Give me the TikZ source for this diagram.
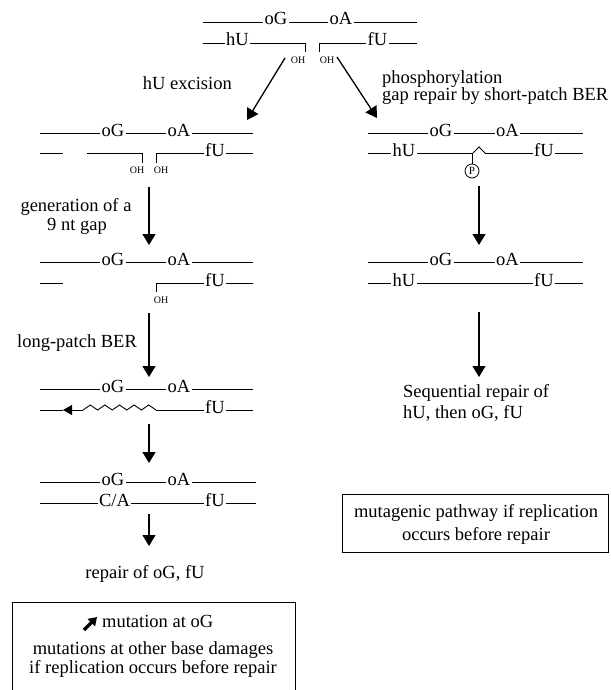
\documentclass[tikz,border=0pt]{standalone}
\usepackage{fontspec}
\setmainfont{Liberation Serif}
\usetikzlibrary{arrows.meta}

\begin{document}
\begin{tikzpicture}[x=1pt,y=-1pt,
  every node/.style={font=\fontsize{18.5}{21}\selectfont},
  base/.style={anchor=base,fill=white,inner xsep=1.5pt,inner ysep=1pt},
  oh/.style={font=\fontsize{10}{12}\selectfont,inner sep=0pt},
  strand/.style={line width=0.9pt},
  arr/.style={line width=1.3pt,-{Triangle[width=13pt,length=11pt]}},
  note/.style={anchor=base west,inner sep=0pt},
  caption/.style={anchor=base,inner sep=0pt},
  box/.style={line width=1pt}]
\useasboundingbox (0,0) rectangle (610,690);

% damaged duplex
\draw[strand] (203,22) -- (417,22);
\draw[strand] (203,43) -- (305,43) -- (305,52);
\draw[strand] (319,52) -- (319,43) -- (417,43);
\node[base] (oG0) at (276,25) {oG};
\node[base] (oA0) at (341,25) {oA};
\node[base] (hU0) at (237.5,46) {hU};
\node[base] (fU0) at (377.5,46) {fU};
\node[oh] (ohL0) at (298,60) {OH};
\node[oh] (ohR0) at (327,60) {OH};

\coordinate (excA) at (285,58);
\coordinate (excB) at (247,120);
\coordinate (phA) at (337,57);
\coordinate (phB) at (377,118);
\draw[arr] (excA) -- (excB);
\draw[arr] (phA) -- (phB);
\node[anchor=base east,inner sep=0pt] (exc) at (232,90) {hU excision};
\node[note] (phos) at (382,84) {phosphorylation};
\node[note] (gaprep) at (382,101) {gap repair by short-patch BER};

% left: after excision
\draw[strand] (40,133) -- (253,133);
\draw[strand] (40,153) -- (63,153);
\draw[strand] (87,153) -- (142,153) -- (142,163);
\draw[strand] (156,163) -- (156,153) -- (253,153);
\node[base] (oG1) at (113,136) {oG};
\node[base] (oA1) at (179,136) {oA};
\node[base] (fU1) at (215,156) {fU};
\node[oh] (ohL1) at (137,170) {OH};
\node[oh] (ohR1) at (161,170) {OH};

\coordinate (genA) at (149,187);
\coordinate (genB) at (149,245);
\draw[arr] (genA) -- (genB);
\node[caption] (gen1) at (76,211) {generation of a};
\node[caption] (gen2) at (77,230) {9 nt gap};

% left: 9 nt gap
\draw[strand] (40,262) -- (253,262);
\draw[strand] (40,283) -- (63,283);
\draw[strand] (156,292) -- (156,283) -- (253,283);
\node[base] (oG2) at (113,265) {oG};
\node[base] (oA2) at (179,265) {oA};
\node[base] (fU2) at (215,286) {fU};
\node[oh] (ohR2) at (161,300) {OH};

\coordinate (lpA) at (149,313);
\coordinate (lpB) at (149,377);
\draw[arr] (lpA) -- (lpB);
\node[caption] (lp) at (77,347) {long-patch BER};

% left: strand displacement
\draw[strand] (40,389) -- (253,389);
\draw[strand] (63,410) -- (40,410);
\draw[strand,-{Triangle[width=10pt,length=9pt]}] (83,410) -- (63,410);
\draw[strand] (83,410) \foreach \k in {1,...,5}{ -- ++(7.3,-5) -- ++(7.3,5)};
\draw[strand] (156,410) -- (253,410);
\node[base] (oG3) at (113,392) {oG};
\node[base] (oA3) at (179,392) {oA};
\node[base] (fU3) at (215,413) {fU};

\coordinate (mA) at (149,424);
\coordinate (mB) at (149,463);
\draw[arr] (mA) -- (mB);

% left: mispaired product
\draw[strand] (40,482) -- (256,482);
\draw[strand] (40,503) -- (256,503);
\node[base] (oG4) at (113,485) {oG};
\node[base] (oA4) at (179,485) {oA};
\node[base] (CA4) at (114.5,506) {C/A};
\node[base] (fU4) at (215,506) {fU};

\coordinate (rA) at (149,514);
\coordinate (rB) at (149,546);
\draw[arr] (rA) -- (rB);
\node[caption] (rep) at (145,578) {repair of oG, fU};

\draw[box] (12,700) -- (12,602) -- (295,602) -- (295,700);
\draw[line width=3.2pt,-{Triangle[width=10pt,length=8pt]}] (84,630) -- (97,617);
\node[note] (mut1) at (102,627) {mutation at oG};
\node[caption] (mut2) at (153,654) {mutations at other base damages};
\node[caption] (mut3) at (153,673) {if replication occurs before repair};

% right: short-patch BER
\draw[strand] (368,133) -- (583,133);
\draw[strand] (368,153) -- (472,153);
\node[draw,circle,line width=0.8pt,minimum size=14pt,inner sep=0pt,
  font=\fontsize{11}{12}\selectfont] (P) at (472,171) {P};
\draw[strand] (472,153) -- (P);
\draw[strand] (473,153) -- (479,147) -- (485,153);
\draw[strand] (485,153) -- (583,153);
\node[base] (oG5) at (441,136) {oG};
\node[base] (oA5) at (507.5,136) {oA};
\node[base] (hU5) at (404,156) {hU};
\node[base] (fU5) at (544,156) {fU};

\coordinate (spA) at (479,186);
\coordinate (spB) at (479,245);
\draw[arr] (spA) -- (spB);

\draw[strand] (368,262) -- (583,262);
\draw[strand] (368,283) -- (583,283);
\node[base] (oG6) at (441,265) {oG};
\node[base] (oA6) at (507.5,265) {oA};
\node[base] (hU6) at (404,286) {hU};
\node[base] (fU6) at (544,286) {fU};

\coordinate (sqA) at (479,312);
\coordinate (sqB) at (479,377);
\draw[arr] (sqA) -- (sqB);
\node[note] (seq1) at (403,397) {Sequential repair of};
\node[note] (seq2) at (403,418) {hU, then oG, fU};

\draw[box] (342,494) rectangle (608,552);
\node[caption] (mp1) at (476,517) {mutagenic pathway if replication};
\node[caption] (mp2) at (476,540) {occurs before repair};
\end{tikzpicture}
\end{document}
